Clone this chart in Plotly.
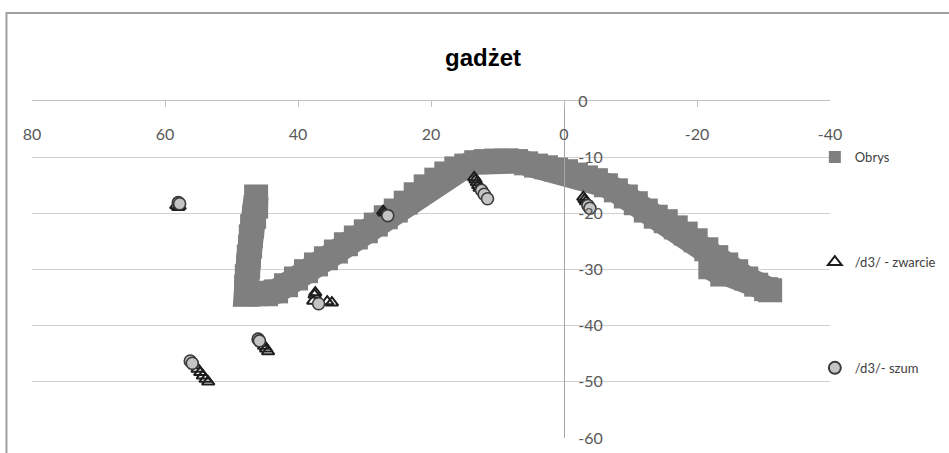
import plotly.graph_objects as go

# Contour of the outline ("Obrys"), traced along the band
obrys_x = [46.3, 46.3, 46.6, 46.9, 47.1, 47.2, 47.4, 47.5, 47.7, 47.8, 47.8,
           46.3, 44.8, 43.3,
           41.8, 40.3, 38.8, 37.3, 35.8, 34.3, 32.8, 31.3, 29.8, 28.3, 26.8,
           25.3, 23.8, 22.3, 20.8, 19.2, 17.7, 16.2, 14.7, 13.2, 11.7, 10.2,
           8.7, 7.2, 5.7, 4.2, 2.7, 1.2, -0.3, -1.8, -3.3, -4.8, -6.3, -7.8,
           -9.3, -10.8, -12.3, -13.8, -15.3, -16.8, -18.3, -19.8, -21.4, -22.9,
           -24.4, -25.9, -27.4, -28.9, -30.4, -31.0, -22.0, -23.8]
obrys_y = [-17.0, -18.8, -20.6, -22.3, -24.1, -25.9, -27.7, -29.5, -31.2, -33.0, -34.4,
           -34.4, -34.4, -33.9,
           -32.8, -31.6, -30.3, -29.1, -28.0, -26.8, -25.5, -24.3, -23.2, -22.0, -20.7,
           -19.5, -18.1, -16.6, -15.2, -14.0, -12.9, -12.0, -11.5, -10.9, -10.7, -10.6,
           -10.6, -10.7, -11.1, -11.5, -11.8, -12.2, -12.5, -13.1, -13.6, -14.1, -15.0, -15.9,
           -17.0, -18.2, -19.5, -20.6, -21.4, -22.5, -23.6, -24.8, -26.4, -27.8,
           -29.1, -30.3, -31.6, -32.7, -33.5, -33.7, -29.6, -30.9]

# /d3/ - zwarcie (closure phase)
zwarcie_x = [58.3, 58.0, 57.8,
             27.2, 27.0,
             13.5, 13.3, 13.1, 12.9, 12.7,
             -2.9, -3.1, -3.3,
             37.4, 37.5, 37.7, 35.6, 34.9,
             45.4, 45.1, 44.8, 44.5,
             55.5, 55.1, 54.7, 54.3, 53.9, 53.5]
zwarcie_y = [-18.6, -18.9, -18.7,
             -19.6, -19.9,
             -13.6, -14.0, -14.5, -15.0, -15.5,
             -17.1, -17.5, -17.9,
             -34.1, -34.5, -35.6, -35.7, -35.9,
             -43.1, -43.6, -44.1, -44.6,
             -47.1, -47.7, -48.3, -48.9, -49.5, -50.0]

# /d3/ - szum (noise phase)
szum_x = [58.0, 57.8, 26.5, 12.4, 12.0, 11.5, -3.6, -3.9, 36.9, 46.0, 45.8, 56.2, 55.9]
szum_y = [-18.1, -18.3, -20.4, -15.9, -16.6, -17.4, -18.6, -19.1, -36.1, -42.4, -42.7, -46.3, -46.7]

x_ticks = [80, 60, 40, 20, 0, -20, -40]
x_tick_labels = ["80", "60", "40", "20", "0", "-20", "-40"]
y_ticks = [0, -10, -20, -30, -40, -50, -60]
y_tick_labels = ["0", "-10", "-20", "-30", "-40", "-50", "-60"]

x_range = [80, -40]
y_range = [-60, 0]

OBRYS_GREY = "#7f7f7f"
tick_font = dict(family="Lato", size=16, color="#595959")
legend_font = dict(family="Lato", size=13, color="#404040")

fig = go.Figure()

# the outline points are dense enough to form a band: a wide stroke through them
# fills the gaps between the square markers
fig.add_trace(go.Scatter(
    x=obrys_x, y=obrys_y, mode="lines", showlegend=False, hoverinfo="skip",
    line=dict(color=OBRYS_GREY, width=25),
))
fig.add_trace(go.Scatter(
    x=obrys_x, y=obrys_y, mode="markers", name="Obrys", legend="legend",
    marker=dict(symbol="square", size=24, color=OBRYS_GREY, line=dict(width=0)),
))
fig.add_trace(go.Scatter(
    x=zwarcie_x, y=zwarcie_y, mode="markers", name="/d3/ - zwarcie", legend="legend2",
    marker=dict(symbol="triangle-up-open", size=11, color="#1e1e1e", line=dict(width=2)),
))
fig.add_trace(go.Scatter(
    x=szum_x, y=szum_y, mode="markers", name="/d3/- szum", legend="legend3",
    marker=dict(symbol="circle", size=12, color="#c4c4c4", line=dict(width=1.6, color="#3a3a3a")),
))

legend_common = dict(
    x=0.981, xanchor="left", yanchor="middle", font=legend_font,
    itemsizing="constant", bgcolor="rgba(0,0,0,0)",
)

fig.update_layout(
    width=949, height=453,
    margin=dict(l=32, r=119, t=101, b=15, autoexpand=False),
    paper_bgcolor="white", plot_bgcolor="white",
    title=dict(
        text="gadżet", x=0.509, xref="container", xanchor="center",
        y=0.872, yref="container", yanchor="middle",
        font=dict(family="Liberation Sans", size=24, color="#000000", weight="bold"),
    ),
    legend=dict(y=0.834, **legend_common),
    legend2=dict(y=0.522, **legend_common),
    legend3=dict(y=0.208, **legend_common),
    xaxis=dict(
        range=x_range, tickmode="array", tickvals=x_ticks, ticktext=x_tick_labels,
        side="top",
        showline=True, linecolor="#bfbfbf", linewidth=1,
        ticks="inside", ticklen=6, tickcolor="#bfbfbf",
        ticklabelposition="inside", ticklabelstandoff=22, ticklabeloverflow="allow",
        showgrid=False, zeroline=False, tickfont=tick_font,
    ),
    yaxis=dict(
        range=y_range, tickmode="array", tickvals=y_ticks, ticktext=y_tick_labels,
        anchor="free", position=0.6667, side="right",
        showline=True, linecolor="#a6a6a6", linewidth=1,
        ticks="", ticklabelstandoff=10,
        showgrid=True, gridcolor="#d0d0d0", gridwidth=1,
        zeroline=False, tickfont=tick_font,
    ),
    shapes=[dict(
        type="rect", xref="paper", yref="paper",
        x0=-0.032, x1=1.2, y0=-0.1, y1=1.261,
        line=dict(color="#a0a0a0", width=2), fillcolor="rgba(0,0,0,0)", layer="below",
    )],
    showlegend=True,
)

fig.write_html("out.html")
